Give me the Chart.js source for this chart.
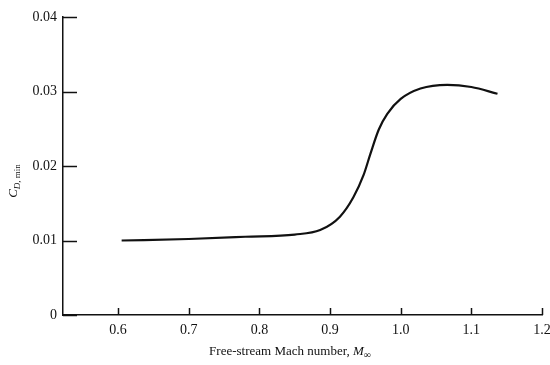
<!DOCTYPE html>
<html>
<head>
<meta charset="utf-8">
<script src="https://cdn.jsdelivr.net/npm/chart.js@4.4.1/dist/chart.umd.min.js"></script>
<style>
  html, body { margin: 0; padding: 0; background: #fff; }
  #wrap { width: 550px; height: 365px; }
</style>
</head>
<body>
<div id="wrap"><canvas id="Chart"></canvas></div>
<script>
// Free-stream Mach number vs minimum drag coefficient
const machValues = [0.605, 0.70, 0.78, 0.85, 0.886, 0.914, 0.933, 0.9475, 0.957, 0.969, 0.981, 1.00, 1.028, 1.066, 1.10, 1.137];
const cdMinValues = [0.0100, 0.0102, 0.0105, 0.0108, 0.0114, 0.0132, 0.0158, 0.0188, 0.0216, 0.0249, 0.0270, 0.0290, 0.0304, 0.0309, 0.0306, 0.0297];
const xTicks = [0.6, 0.7, 0.8, 0.9, 1.0, 1.1, 1.2];
const yTicks = [0, 0.01, 0.02, 0.03, 0.04];

const serif = "'Liberation Serif', 'DejaVu Serif', serif";

// inner tick marks + axis titles (italic symbols, subscripts)
const paperAxes = {
  id: "paperAxes",
  afterDraw(chart) {
    const { ctx, chartArea, scales } = chart;
    ctx.save();
    ctx.strokeStyle = "#111";
    ctx.lineWidth = 1.5;
    yTicks.forEach((v) => {
      const y = Math.round(scales.y.getPixelForValue(v)) + 0.5;
      ctx.beginPath();
      ctx.moveTo(chartArea.left, y);
      ctx.lineTo(chartArea.left + 14, y);
      ctx.stroke();
    });
    xTicks.forEach((v) => {
      const x = Math.round(scales.x.getPixelForValue(v)) + 0.5;
      ctx.beginPath();
      ctx.moveTo(x, chartArea.bottom);
      ctx.lineTo(x, chartArea.bottom - 7);
      ctx.stroke();
    });

    ctx.fillStyle = "#111";
    ctx.textBaseline = "alphabetic";
    // x title
    const part1 = "Free-stream Mach number, ";
    ctx.font = "13px " + serif;
    const w1 = ctx.measureText(part1).width;
    ctx.font = "italic 13px " + serif;
    const wM = ctx.measureText("M").width;
    ctx.font = "10px " + serif;
    const wInf = ctx.measureText("\u221E").width;
    let x0 = 290 - (w1 + wM + wInf) / 2;
    const yb = 355;
    ctx.font = "13px " + serif;
    ctx.fillText(part1, x0, yb);
    ctx.font = "italic 13px " + serif;
    ctx.fillText("M", x0 + w1, yb);
    ctx.font = "10px " + serif;
    ctx.fillText("\u221E", x0 + w1 + wM, yb + 3);

    // y title
    ctx.translate(17, 181);
    ctx.rotate(-Math.PI / 2);
    ctx.font = "italic 13px " + serif;
    const wC = ctx.measureText("C").width;
    ctx.font = "italic 9px " + serif;
    const wD = ctx.measureText("D").width;
    ctx.font = "9px " + serif;
    const wSub = ctx.measureText(", min").width;
    let sx = -(wC + wD + wSub) / 2;
    ctx.font = "italic 13px " + serif;
    ctx.fillText("C", sx, 0);
    ctx.font = "italic 9px " + serif;
    ctx.fillText("D", sx + wC, 3);
    ctx.font = "9px " + serif;
    ctx.fillText(", min", sx + wC + wD, 3);
    ctx.restore();
  },
};

new Chart(document.getElementById("Chart"), {
  type: "line",
  data: {
    datasets: [
      {
        data: machValues.map((m, i) => ({ x: m, y: cdMinValues[i] })),
        borderColor: "#111",
        borderWidth: 2.2,
        pointRadius: 0,
        fill: false,
        cubicInterpolationMode: "monotone",
      },
    ],
  },
  options: {
    responsive: true,
    maintainAspectRatio: false,
    animation: false,
    layout: { padding: { top: 17, right: 8, left: 0, bottom: 0 } },
    plugins: { legend: { display: false }, tooltip: { enabled: false } },
    scales: {
      x: {
        type: "linear",
        min: 0.522,
        max: 1.2,
        afterBuildTicks: (scale) => {
          scale.ticks = xTicks.map((v) => ({ value: v }));
        },
        afterFit: (scale) => {
          scale.height = 50;
          scale.paddingLeft = 0;
          scale.paddingRight = 0;
        },
        ticks: {
          color: "#111",
          padding: 7,
          font: { family: serif, size: 14 },
          callback: (v) => v.toFixed(1),
        },
        grid: { display: false, drawTicks: false },
        border: { display: true, color: "#111", width: 1.5 },
      },
      y: {
        type: "linear",
        min: 0,
        max: 0.04,
        afterBuildTicks: (scale) => {
          scale.ticks = yTicks.map((v) => ({ value: v }));
        },
        afterFit: (scale) => {
          scale.width = 63;
          scale.paddingTop = 0;
          scale.paddingBottom = 0;
        },
        ticks: {
          color: "#111",
          padding: 6,
          font: { family: serif, size: 14 },
          callback: (v) => (v === 0 ? "0" : v.toFixed(2)),
        },
        grid: { display: false, drawTicks: false },
        border: { display: true, color: "#111", width: 1.5 },
      },
    },
  },
  plugins: [paperAxes],
});
</script>
</body>
</html>
